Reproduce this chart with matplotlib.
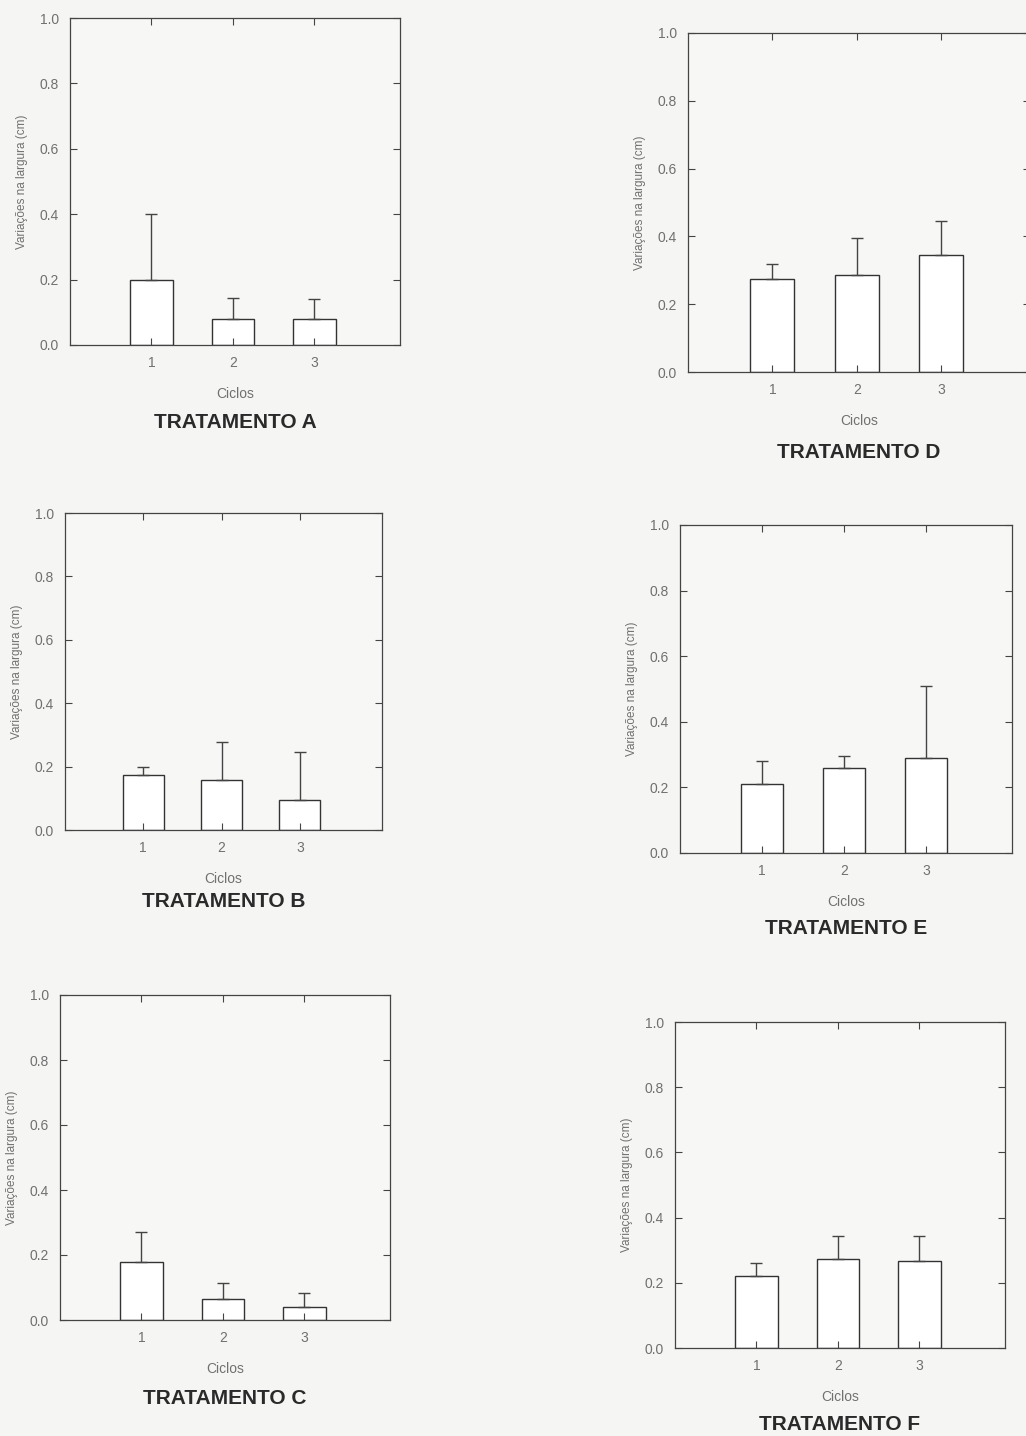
import matplotlib.pyplot as plt

plt.rcParams['font.family'] = ['Liberation Sans', 'DejaVu Sans']

ciclos = [1, 2, 3]
tratamentos = ["A", "B", "C", "D", "E", "F"]

media_A = [0.20, 0.08, 0.08]
topo_A = [0.40, 0.145, 0.14]
media_B = [0.175, 0.158, 0.095]
topo_B = [0.20, 0.278, 0.247]
media_C = [0.18, 0.065, 0.04]
topo_C = [0.27, 0.113, 0.083]
media_D = [0.273, 0.285, 0.345]
topo_D = [0.32, 0.395, 0.445]
media_E = [0.21, 0.26, 0.29]
topo_E = [0.28, 0.297, 0.51]
media_F = [0.22, 0.273, 0.268]
topo_F = [0.262, 0.345, 0.345]

medias = [media_A, media_B, media_C, media_D, media_E, media_F]
topos = [topo_A, topo_B, topo_C, topo_D, topo_E, topo_F]

W, H = 1026, 1436
# pixel boxes (left, top, right, bottom) for each panel
caixas = [(70, 18, 400, 345), (65, 513, 382, 830), (60, 995, 390, 1320),
          (688, 33, 1030, 372), (680, 525, 1012, 853), (675, 1022, 1005, 1348)]
# title vertical offset below each panel (px)
desloc = [78, 72, 78, 80, 76, 77]

fig = plt.figure(figsize=(W / 100, H / 100), dpi=100)
fig.patch.set_facecolor('#f5f5f3')

cinza = '#707070'
for t, m, tp, (l, tt, r, b), d in zip(tratamentos, medias, topos, caixas, desloc):
    ax = fig.add_axes([l / W, 1 - b / H, (r - l) / W, (b - tt) / H])
    ax.set_facecolor('#f7f7f5')
    erro = [mi - mi for mi in m], [ti - mi for ti, mi in zip(tp, m)]
    ax.bar(ciclos, m, width=0.52, color='white', edgecolor='#333333', linewidth=1.0)
    ax.errorbar(ciclos, m, yerr=erro, fmt='none', ecolor='#444444',
                elinewidth=1.0, capsize=4, capthick=1.0)
    ax.set_xlim(0, 4.05)
    ax.set_ylim(0, 1.0)
    ax.set_xticks(ciclos)
    ax.set_yticks([0, 0.2, 0.4, 0.6, 0.8, 1.0])
    ax.set_yticklabels(["0.0", "0.2", "0.4", "0.6", "0.8", "1.0"])
    ax.tick_params(direction='in', top=True, right=True, length=5,
                   labelsize=10, labelcolor=cinza, color='#444444', pad=8)
    for s in ax.spines.values():
        s.set_color('#444444')
        s.set_linewidth(0.9)
    ax.set_xlabel("Ciclos", fontsize=10, color=cinza, labelpad=12)
    ax.set_ylabel("Variações na largura (cm)", fontsize=8.5, color=cinza, labelpad=8)
    fig.text((l + r) / 2 / W, 1 - (b + d) / H, "TRATAMENTO " + t,
             ha='center', va='center', fontsize=15, fontweight='bold', color='#2a2a2a')

fig.savefig("out.png", dpi=100, facecolor=fig.get_facecolor())
